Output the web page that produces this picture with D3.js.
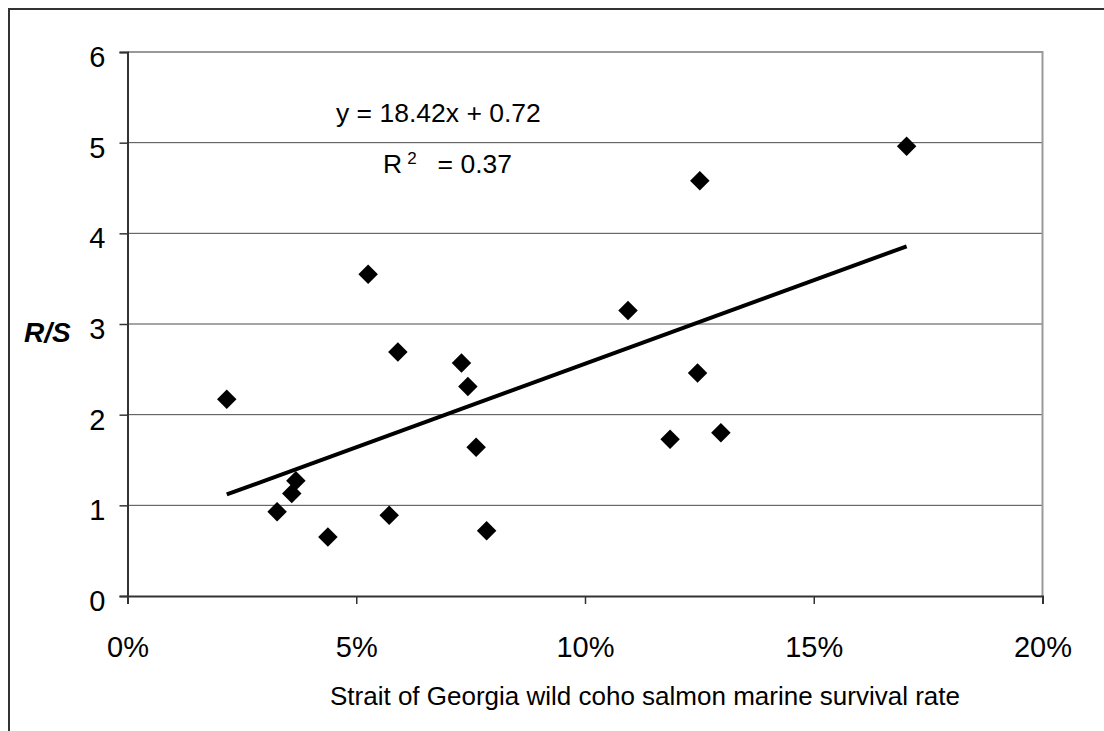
<!DOCTYPE html>
<html>
<head>
<meta charset="utf-8">
<script src="https://cdn.jsdelivr.net/npm/d3@7/dist/d3.min.js"></script>
<style>
  html, body { margin: 0; padding: 0; background: #fff; }
  svg { display: block; font-family: "Liberation Sans", Arial, sans-serif; }
</style>
</head>
<body>
<svg id="chart" width="1104" height="731"></svg>
<script>
// Marine survival (fraction) vs recruits per spawner
const survival = [0.0217, 0.0327, 0.0359, 0.0368, 0.0438, 0.0526, 0.0572, 0.0591,
                  0.0730, 0.0744, 0.0762, 0.0785, 0.1094, 0.1186, 0.1246, 0.1251,
                  0.1297, 0.1703];
const recruitsPerSpawner = [2.17, 0.93, 1.13, 1.27, 0.65, 3.55, 0.89, 2.69,
                            2.57, 2.31, 1.64, 0.72, 3.15, 1.73, 2.46, 4.58,
                            1.80, 4.96];
const xTicks = [0, 0.05, 0.10, 0.15, 0.20];
const yTicks = [0, 1, 2, 3, 4, 5, 6];
const slope = 18.42;
const intercept = 0.72;
const rSquared = 0.37;

const points = survival.map((s, i) => ({ x: s, y: recruitsPerSpawner[i] }));

const svg = d3.select("#chart");
const plotLeft = 127.5, plotRight = 1042.5, plotTop = 52, plotBottom = 596;

const x = d3.scaleLinear().domain([0, 0.20]).range([plotLeft, plotRight]);
const y = d3.scaleLinear().domain([0, 6]).range([plotBottom, plotTop]);

// Frame around the chart area (left and top edges)
svg.append("path")
  .attr("d", "M9,731 L9,9 L1104,9")
  .attr("fill", "none").attr("stroke", "#333").attr("stroke-width", 2);

// Horizontal gridlines
svg.append("g").selectAll("line")
  .data(yTicks.filter(d => d > 0 && d < 6))
  .join("line")
  .attr("x1", plotLeft).attr("x2", plotRight)
  .attr("y1", d => y(d)).attr("y2", d => y(d))
  .attr("stroke", "#4a4a4a").attr("stroke-width", 1);

// Plot area border: top and right
svg.append("path")
  .attr("d", `M${plotLeft},${y(6)} L${plotRight},${y(6)} L${plotRight},${y(0)}`)
  .attr("fill", "none").attr("stroke", "#999").attr("stroke-width", 2);

// Axes
const yAxis = d3.axisLeft(y).tickValues(yTicks).tickSize(8).tickFormat(d3.format("d"));
const xAxis = d3.axisBottom(x).tickValues(xTicks).tickSize(8).tickFormat(d3.format(".0%"));

const gy = svg.append("g").attr("transform", `translate(${plotLeft},0)`).call(yAxis);
const gx = svg.append("g").attr("transform", `translate(0,${plotBottom})`).call(xAxis);

[gx, gy].forEach(g => {
  g.select(".domain").attr("stroke", "#333").attr("stroke-width", 2);
  g.selectAll(".tick line").attr("stroke", "#333").attr("stroke-width", 1.5);
  g.selectAll(".tick text")
    .attr("fill", "#000")
    .attr("font-family", "Liberation Sans, Arial, sans-serif")
    .attr("font-size", 29);
});
gy.selectAll(".tick text").attr("x", -22).attr("dy", "0.5em");
gx.selectAll(".tick text").attr("y", 0).attr("dy", 0)
  .attr("transform", "translate(0,61)");

// Trend line over the range of observed survival
const xr = d3.extent(survival);
svg.append("line")
  .attr("x1", x(xr[0])).attr("y1", y(slope * xr[0] + intercept))
  .attr("x2", x(xr[1])).attr("y2", y(slope * xr[1] + intercept))
  .attr("stroke", "#000").attr("stroke-width", 4);

// Diamond markers
const diamond = d3.symbol().type(d3.symbolSquare).size(190);
svg.append("g").selectAll("path")
  .data(points)
  .join("path")
  .attr("d", diamond)
  .attr("transform", d => `translate(${x(d.x)},${y(d.y)}) rotate(45)`)
  .attr("fill", "#000");

// Regression annotation
svg.append("text")
  .attr("x", 336).attr("y", 122)
  .attr("font-size", 26.5).attr("fill", "#000")
  .text(`y = ${slope.toFixed(2)}x + ${intercept.toFixed(2)}`);

const r2 = svg.append("text").attr("x", 383).attr("y", 173).attr("font-size", 26.5).attr("fill", "#000");
r2.append("tspan").text("R");
r2.append("tspan").attr("font-size", 17).attr("dx", 5).attr("dy", -9).text("2");
r2.append("tspan").attr("dx", 21).attr("dy", 9).text(`= ${rSquared.toFixed(2)}`);

// Axis titles
svg.append("text")
  .attr("x", 24).attr("y", 342)
  .attr("font-size", 28).attr("font-weight", "bold").attr("font-style", "italic")
  .attr("fill", "#000")
  .text("R/S");

svg.append("text")
  .attr("x", 645).attr("y", 705)
  .attr("text-anchor", "middle")
  .attr("font-size", 26).attr("fill", "#000")
  .text("Strait of Georgia wild coho salmon marine survival rate");
</script>
</body>
</html>
